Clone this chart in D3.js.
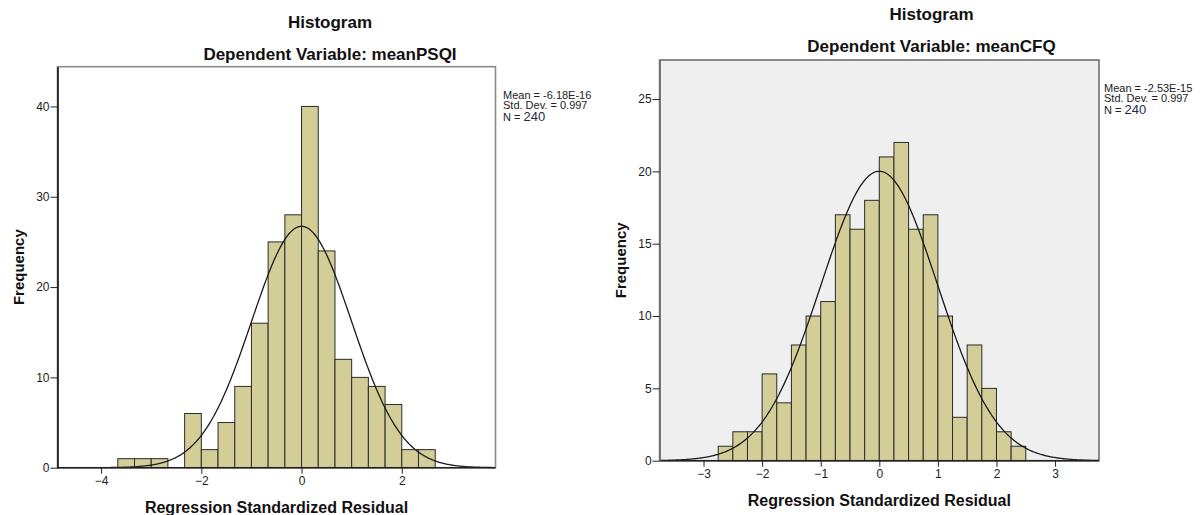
<!DOCTYPE html>
<html>
<head>
<meta charset="utf-8">
<script src="https://cdn.jsdelivr.net/npm/d3@7"></script>
<style>
  body { margin: 0; background: #fff; }
  svg { display: block; font-family: "Liberation Sans", Arial, sans-serif; }
</style>
</head>
<body>
<svg id="chart" width="1200" height="515"></svg>
<script>
// left histogram: residuals for meanPSQI
const psqiEdges = [-3.667, -3.333, -3, -2.667, -2.333, -2, -1.667, -1.333, -1, -0.667, -0.333,
                   0, 0.333, 0.667, 1, 1.333, 1.667, 2, 2.333, 2.667];
const psqiCounts = [1, 1, 1, 0, 6, 2, 5, 9, 16, 25, 28, 40, 24, 12, 10, 9, 7, 2, 2];
const psqiXTicks = [-4, -2, 0, 2];
const psqiYTicks = [0, 10, 20, 30, 40];
const psqiStats = ["Mean = -6.18E-16", "Std. Dev. = 0.997", "240"];

// right histogram: residuals for meanCFQ
const cfqEdges = [-2.75, -2.5, -2.25, -2, -1.75, -1.5, -1.25, -1, -0.75, -0.5, -0.25,
                  0, 0.25, 0.5, 0.75, 1, 1.25, 1.5, 1.75, 2, 2.25, 2.5];
const cfqCounts = [1, 2, 2, 6, 4, 8, 10, 11, 17, 16, 18, 21, 22, 16, 17, 10, 3, 8, 5, 2, 1];
const cfqXTicks = [-3, -2, -1, 0, 1, 2, 3];
const cfqYTicks = [0, 5, 10, 15, 20, 25];
const cfqStats = ["Mean = -2.53E-15", "Std. Dev. = 0.997", "240"];

const residMean = 0;
const residSd = 0.997;

const svg = d3.select('#chart');

function drawHistogram(opt) {
  const g = svg.append('g');
  const x = d3.scaleLinear().domain(opt.xDomain).range([opt.left, opt.right]);
  const y = d3.scaleLinear().domain(opt.yDomain).range([opt.bottom, opt.top]);

  // titles
  g.append('text').attr('x', opt.titleX).attr('y', opt.titleY)
    .attr('text-anchor', 'middle').attr('font-size', 17).attr('font-weight', 'bold')
    .attr('fill', '#111').text('Histogram');
  g.append('text').attr('x', opt.titleX).attr('y', opt.titleY + 32)
    .attr('text-anchor', 'middle').attr('font-size', 17).attr('font-weight', 'bold')
    .attr('fill', '#111').text(opt.subtitle);

  // plot background
  g.append('rect')
    .attr('x', opt.left).attr('y', opt.top)
    .attr('width', opt.right - opt.left).attr('height', opt.bottom - opt.top)
    .attr('fill', opt.bg);

  // bars (empty bins leave a gap)
  const bins = opt.counts.map((c, i) => ({ x0: opt.edges[i], x1: opt.edges[i + 1], n: c }))
    .filter(d => d.n > 0);
  g.append('g').selectAll('rect')
    .data(bins)
    .enter().append('rect')
    .attr('x', d => x(d.x0))
    .attr('y', d => y(d.n))
    .attr('width', d => x(d.x1) - x(d.x0))
    .attr('height', d => y(0) - y(d.n))
    .attr('fill', '#d3ce98')
    .attr('stroke', '#2b2b2b')
    .attr('stroke-width', 1);

  // fitted normal curve, scaled by total count * bin width
  const binW = opt.edges[1] - opt.edges[0];
  const total = d3.sum(opt.counts);
  const pts = d3.range(opt.xDomain[0], opt.xDomain[1] + 0.001, 0.02).map(v => {
    const z = (v - residMean) / residSd;
    return [v, total * binW * Math.exp(-0.5 * z * z) / (residSd * Math.sqrt(2 * Math.PI))];
  });
  g.append('path')
    .datum(pts)
    .attr('fill', 'none')
    .attr('stroke', '#1a1a1a')
    .attr('stroke-width', 1.3)
    .attr('d', d3.line().x(d => x(d[0])).y(d => y(d[1])));

  // frame
  g.append('rect')
    .attr('x', opt.left).attr('y', opt.top)
    .attr('width', opt.right - opt.left).attr('height', opt.bottom - opt.top)
    .attr('fill', 'none').attr('stroke', opt.frame).attr('stroke-width', 1.6);

  // axes
  const xAxis = g.append('g')
    .attr('transform', 'translate(0,' + opt.bottom + ')')
    .call(d3.axisBottom(x).tickValues(opt.xTicks).tickSize(6).tickPadding(3).tickSizeOuter(0));
  const yAxis = g.append('g')
    .attr('transform', 'translate(' + opt.left + ',0)')
    .call(d3.axisLeft(y).tickValues(opt.yTicks).tickSize(7).tickPadding(1).tickSizeOuter(0));
  [xAxis, yAxis].forEach(a => {
    a.select('.domain').attr('stroke', opt.axisColor).attr('stroke-width', 1.6);
    a.selectAll('.tick line').attr('stroke', '#222');
    a.selectAll('.tick text').attr('font-size', 12).attr('fill', '#222')
      .attr('font-family', '"Liberation Sans", Arial, sans-serif');
  });
  xAxis.select('.domain').attr('d', 'M' + opt.left + ',0H' + opt.right).attr('stroke', '#222');

  // axis titles
  g.append('text')
    .attr('x', (opt.left + opt.right) / 2).attr('y', opt.xTitleY)
    .attr('text-anchor', 'middle').attr('font-size', 16).attr('font-weight', 'bold')
    .attr('fill', '#111').text('Regression Standardized Residual');
  g.append('text')
    .attr('transform', 'translate(' + opt.yTitleX + ',' + (opt.top + opt.bottom) / 2 + ') rotate(-90)')
    .attr('text-anchor', 'middle').attr('font-size', 15).attr('font-weight', 'bold')
    .attr('fill', '#111').text('Frequency');

  // stats text beside the plot
  const st = g.append('g').attr('font-size', 11).attr('fill', '#222');
  st.append('text').attr('x', opt.statX).attr('y', opt.statY).text(opt.stats[0]);
  st.append('text').attr('x', opt.statX).attr('y', opt.statY + 10).text(opt.stats[1]);
  const nLine = st.append('text').attr('x', opt.statX).attr('y', opt.statY + 22);
  nLine.append('tspan').text('N = ');
  nLine.append('tspan').attr('font-size', 13).attr('fill', '#1c2a50').text(opt.stats[2]);
}

drawHistogram({
  edges: psqiEdges, counts: psqiCounts, xTicks: psqiXTicks, yTicks: psqiYTicks, stats: psqiStats,
  subtitle: 'Dependent Variable: meanPSQI',
  xDomain: [-4.87, 3.87], yDomain: [0, 44.4],
  left: 57.5, right: 495.5, top: 66.7, bottom: 467.7,
  bg: '#ffffff', frame: '#8a8a8a', axisColor: '#111',
  titleX: 330, titleY: 27.5, xTitleY: 513, yTitleX: 23.5,
  statX: 503, statY: 99
});

drawHistogram({
  edges: cfqEdges, counts: cfqCounts, xTicks: cfqXTicks, yTicks: cfqYTicks, stats: cfqStats,
  subtitle: 'Dependent Variable: meanCFQ',
  xDomain: [-3.75, 3.75], yDomain: [0, 27.7],
  left: 659.6, right: 1099, top: 60, bottom: 460.7,
  bg: '#efefef', frame: '#6e6e6e', axisColor: '#6e6e6e',
  titleX: 931.5, titleY: 20, xTitleY: 506, yTitleX: 626,
  statX: 1104, statY: 92
});
</script>
</body>
</html>
